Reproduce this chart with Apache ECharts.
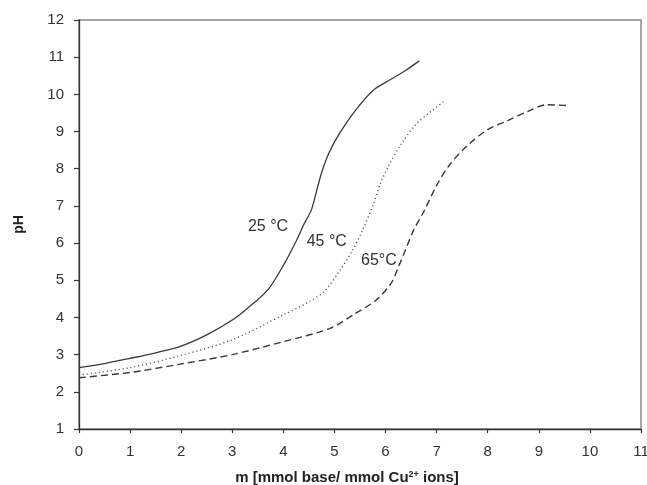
<!DOCTYPE html>
<html>
<head>
<meta charset="utf-8">
<script src="https://cdn.jsdelivr.net/npm/echarts@6/dist/echarts.min.js"></script>
<style>
html,body{margin:0;padding:0;background:#fff;}
#chart{width:647px;height:485px;}
</style>
</head>
<body>
<div id="chart"></div>
<script>
// 25 °C (solid)
const x25 = [0, 0.5, 1, 1.5, 2, 2.5, 3, 3.3, 3.7, 4.0, 4.25, 4.4, 4.55, 4.65, 4.75, 4.9, 5.1, 5.4, 5.75, 6.1, 6.4, 6.66];
const y25 = [2.65, 2.76, 2.9, 3.05, 3.23, 3.53, 3.93, 4.25, 4.75, 5.4, 6.05, 6.5, 6.9, 7.4, 7.9, 8.45, 8.95, 9.55, 10.1, 10.4, 10.65, 10.9];
// 45 °C (dotted)
const x45 = [0, 1, 2, 3, 4, 4.5, 4.8, 5.1, 5.35, 5.55, 5.75, 5.9, 6.05, 6.3, 6.6, 6.9, 7.17];
const y45 = [2.45, 2.65, 2.98, 3.4, 4.07, 4.42, 4.7, 5.25, 5.8, 6.35, 7.0, 7.6, 8.05, 8.65, 9.2, 9.55, 9.84];
// 65 °C (dashed)
const x65 = [0, 1, 2, 3, 4, 4.9, 5.4, 5.8, 6.1, 6.25, 6.4, 6.55, 6.75, 7.0, 7.25, 7.6, 8.0, 8.4, 8.8, 9.15, 9.55];
const y65 = [2.38, 2.52, 2.75, 3.0, 3.35, 3.7, 4.1, 4.45, 4.9, 5.35, 5.85, 6.35, 6.85, 7.55, 8.1, 8.62, 9.05, 9.3, 9.55, 9.72, 9.70];
// curve labels
const labelTexts = ['25 °C', '45 °C', '65°C'];
const labelX = [3.70, 4.85, 5.87];
const labelY = [6.45, 6.05, 5.54];

const xTicks = [0,1,2,3,4,5,6,7,8,9,10,11];
const yTicks = [1,2,3,4,5,6,7,8,9,10,11,12];

const FONT = '"Liberation Sans", Arial, sans-serif';
const pair = (xs, ys) => xs.map((v, i) => [v, ys[i]]);

const chart = echarts.init(document.getElementById('chart'), null, {renderer: 'canvas'});
const curveLabel = (t) => ({show: true, formatter: t, fontFamily: FONT, fontSize: 16, color: '#333'});
chart.setOption({
  animation: false,
  backgroundColor: '#fff',
  grid: {left: 79, right: 6, top: 20, bottom: 56, outerBoundsMode: 'none', containLabel: false,
         show: true, borderColor: '#8a8a8a', borderWidth: 1.5, backgroundColor: 'transparent'},
  xAxis: {
    type: 'value', min: xTicks[0], max: xTicks[xTicks.length - 1], interval: 1,
    name: '{n|m [mmol base/ mmol Cu}{s|2+}{n| ions]}',
    nameLocation: 'middle', nameGap: 41,
    nameTextStyle: {padding: [0, 26, 0, 0], rich: {
      n: {fontFamily: FONT, fontWeight: 'bold', fontSize: 15, color: '#222'},
      s: {fontFamily: FONT, fontWeight: 'bold', fontSize: 9, color: '#222', verticalAlign: 'top', padding: [0,0,7,0]}
    }},
    axisLine: {lineStyle: {color: '#333', width: 1.3}},
    axisTick: {show: true, length: 4, inside: false, lineStyle: {color: '#333', width: 1.2}},
    axisLabel: {fontFamily: FONT, fontSize: 15, color: '#333', margin: 15},
    splitLine: {show: false}
  },
  yAxis: {
    type: 'value', min: yTicks[0], max: yTicks[yTicks.length - 1], interval: 1,
    name: 'pH', nameLocation: 'middle', nameGap: 53,
    nameTextStyle: {fontFamily: FONT, fontWeight: 'bold', fontSize: 14, color: '#222'},
    axisLine: {show: true, lineStyle: {color: '#333', width: 1.3}},
    axisTick: {show: true, length: 5, inside: false, lineStyle: {color: '#333', width: 1.2}},
    axisLabel: {fontFamily: FONT, fontSize: 15, color: '#333', margin: 15},
    splitLine: {show: false}
  },
  series: [
    {type: 'line', data: pair(x25, y25), smooth: 0.3, symbol: 'none',
     lineStyle: {color: '#3a3a3a', width: 1.3, type: 'solid'},
     markPoint: {symbol: 'circle', symbolSize: 0, silent: true, label: curveLabel(labelTexts[0]),
       data: [{coord: [labelX[0], labelY[0]]}]}},
    {type: 'line', data: pair(x45, y45), smooth: 0.3, symbol: 'none',
     lineStyle: {color: '#444', width: 1.4, type: [1, 3]},
     markPoint: {symbol: 'circle', symbolSize: 0, silent: true, label: curveLabel(labelTexts[1]),
       data: [{coord: [labelX[1], labelY[1]]}]}},
    {type: 'line', data: pair(x65, y65), smooth: 0.3, symbol: 'none',
     lineStyle: {color: '#3a3a3a', width: 1.4, type: [7, 4]},
     markPoint: {symbol: 'circle', symbolSize: 0, silent: true, label: curveLabel(labelTexts[2]),
       data: [{coord: [labelX[2], labelY[2]]}]}}
  ]
});
</script>
</body>
</html>
